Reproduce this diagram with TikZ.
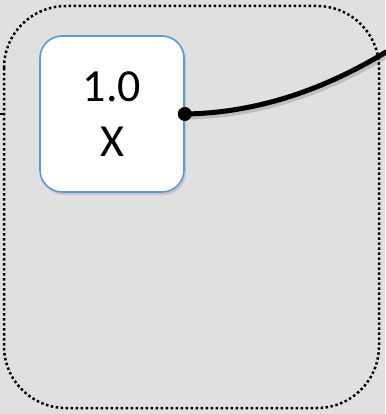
\documentclass[tikz,border=0pt]{standalone}
\usepackage{fontspec}
\setmainfont{Carlito}
\usepackage{tikz}
\usetikzlibrary{positioning,shadows}
\definecolor{bggray}{RGB}{224,224,224}
\definecolor{boxblue}{RGB}{91,155,213}
\tikzstyle{frame}=[draw, line width=2.5pt, dash pattern=on 2.5pt off 2.5pt, rounded corners=62pt]
\tikzstyle{unit}=[draw=boxblue, fill=white, line width=1.6pt, rounded corners=22pt, minimum width=144pt, minimum height=156pt, align=center, font=\fontsize{46}{55}\selectfont, drop shadow={shadow xshift=2pt, shadow yshift=-3pt, opacity=0.25}]
\tikzstyle{link}=[line width=5pt, line cap=round]
\tikzstyle{pin}=[circle, fill=black, inner sep=0pt, minimum size=14pt]
\begin{document}
\begin{tikzpicture}[x=1pt,y=-1pt]
	\useasboundingbox[fill=bggray] (0,0) rectangle (385,414);
	% dotted frame
	\draw[frame] (4,6) rectangle (379,408);
	\node[unit] (unit) at (112,114) {1.0\\X};
	\node[pin] (pin) at (unit.east) {};
	\coordinate (exit) at (386,52);
	\coordinate (entry) at (0,114);
	\coordinate (edge) at (4,114);
	% shadow of the link
	\draw[link, black, opacity=0.15] ([shift={(2,3)}]pin.center) .. controls ([shift={(2,3)}]262,113) and ([shift={(2,3)}]330,86) .. ([shift={(2,3)}]exit);
	\draw[link] (pin.center) .. controls (262,113) and (330,86) .. (exit);
	\draw[line width=2.5pt] (entry) -- (edge);
\end{tikzpicture}
\end{document}
